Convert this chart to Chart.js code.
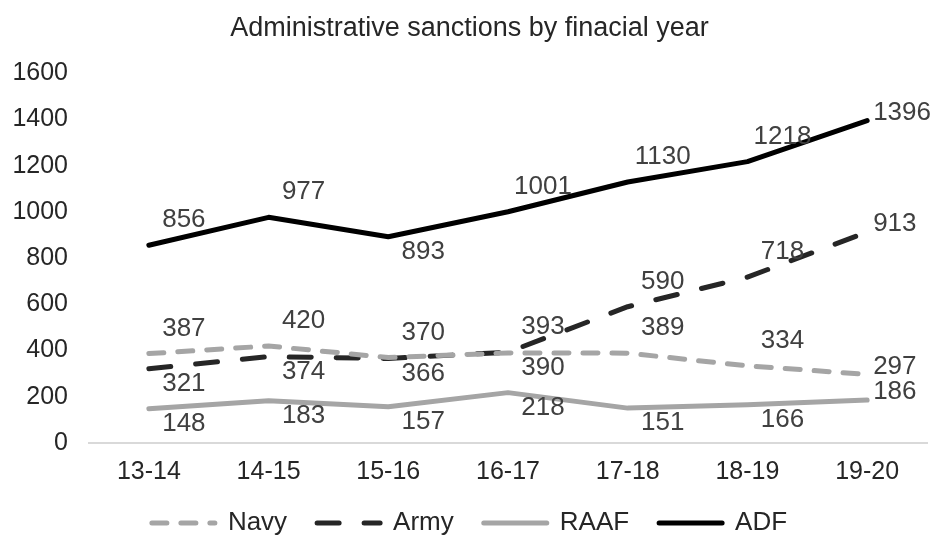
<!doctype html>
<html>
<head>
<meta charset="utf-8">
<title>Administrative sanctions by finacial year</title>
<script src="https://cdn.jsdelivr.net/npm/chart.js@4.4.1/dist/chart.umd.min.js"></script>
<style>
  body { margin: 0; background: #fff; }
</style>
</head>
<body>
<canvas id="sanctionsChart" width="937" height="538"></canvas>
<script>
var years = ['13-14', '14-15', '15-16', '16-17', '17-18', '18-19', '19-20'];
var navy = [387, 420, 370, 390, 389, 334, 297];
var army = [321, 374, 366, 393, 590, 718, 913];
var raaf = [148, 183, 157, 218, 151, 166, 186];
var adf = [856, 977, 893, 1001, 1130, 1218, 1396];
var yTicks = [0, 200, 400, 600, 800, 1000, 1200, 1400, 1600];

// where each value label sits: a = above, b = below, r = right of the point
var navyPos = ['a', 'a', 'a', 'b', 'a', 'a', 'r'];
var armyPos = ['b', 'b', 'b', 'a', 'a', 'a', 'r'];
var raafPos = ['b', 'b', 'b', 'b', 'b', 'b', 'r'];
var adfPos = ['a', 'a', 'b', 'a', 'a', 'a', 'r'];

Chart.defaults.font.family = '"Liberation Sans", Arial, sans-serif';

// excel style value labels, drawn at the points the line controller placed
var valueLabels = {
	id: 'valueLabels',
	afterDatasetsDraw: function(chart) {
		var ctx = chart.ctx;
		ctx.save();
		ctx.font = '26px "Liberation Sans", Arial, sans-serif';
		ctx.fillStyle = '#404040';
		ctx.textBaseline = 'middle';
		chart.data.datasets.forEach(function(ds, i) {
			var meta = chart.getDatasetMeta(i);
			meta.data.forEach(function(pt, j) {
				var pos = ds.labelPos[j];
				var x = pt.x, y = pt.y;
				if (pos == 'r') {
					ctx.textAlign = 'left';
					x += 6;
					y -= 8;
				} else {
					ctx.textAlign = 'center';
					x += 35;
					y += (pos == 'a') ? -25 : 15;
				}
				ctx.fillText(ds.data[j], x, y);
			});
		});
		ctx.restore();
	}
};

function line(label, values, color, dash, pos) {
	return {
		label: label,
		data: values,
		borderColor: color,
		backgroundColor: color,
		borderWidth: 5,
		borderDash: dash,
		borderCapStyle: 'round',
		borderJoinStyle: 'round',
		pointRadius: 0,
		tension: 0,
		fill: false,
		labelPos: pos
	};
}

var ctx = document.getElementById('sanctionsChart').getContext('2d');
var chart = new Chart(ctx, {
	type: 'line',
	data: {
		labels: years,
		datasets: [
			line('Navy', navy, '#a5a5a5', [15, 14], navyPos),
			line('Army', army, '#262626', [22, 25], armyPos),
			line('RAAF', raaf, '#a5a5a5', [], raafPos),
			line('ADF', adf, '#000000', [], adfPos)
		]
	},
	options: {
		responsive: false,
		animation: false,
		devicePixelRatio: 1,
		layout: { padding: { left: 12, right: 10 } },
		plugins: {
			title: {
				display: true,
				text: 'Administrative sanctions by finacial year',
				color: '#262626',
				font: { size: 27, weight: 'normal' },
				padding: { top: 12, bottom: 29 }
			},
			legend: {
				position: 'bottom',
				maxHeight: 58,
				labels: {
					usePointStyle: true,
					pointStyle: 'line',
					pointStyleWidth: 63,
					padding: 30,
					color: '#262626',
					font: { size: 26 },
					// point style drops the dash, so put the line style back
					generateLabels: function(chart) {
						var items = Chart.defaults.plugins.legend.labels.generateLabels(chart);
						items.forEach(function(it) {
							var ds = chart.data.datasets[it.datasetIndex];
							it.lineDash = ds.borderDash;
							it.lineCap = 'round';
							it.lineWidth = ds.borderWidth;
							it.strokeStyle = ds.borderColor;
						});
						return items;
					}
				}
			},
			tooltip: { enabled: false }
		},
		scales: {
			x: {
				offset: true,
				grid: { display: false, drawTicks: false },
				border: { display: true, color: '#d9d9d9', width: 2 },
				ticks: { color: '#262626', font: { size: 25 }, padding: 14 },
				afterFit: function(scale) { scale.height = 37; }
			},
			y: {
				min: yTicks[0],
				max: yTicks[yTicks.length - 1],
				grid: { display: false, drawTicks: false },
				border: { display: false },
				ticks: {
					stepSize: yTicks[1] - yTicks[0],
					color: '#262626',
					font: { size: 25 },
					padding: 21,
					callback: function(v) { return String(v); }
				},
				afterFit: function(scale) { scale.width = 77; }
			}
		}
	},
	plugins: [valueLabels]
});
</script>
</body>
</html>
